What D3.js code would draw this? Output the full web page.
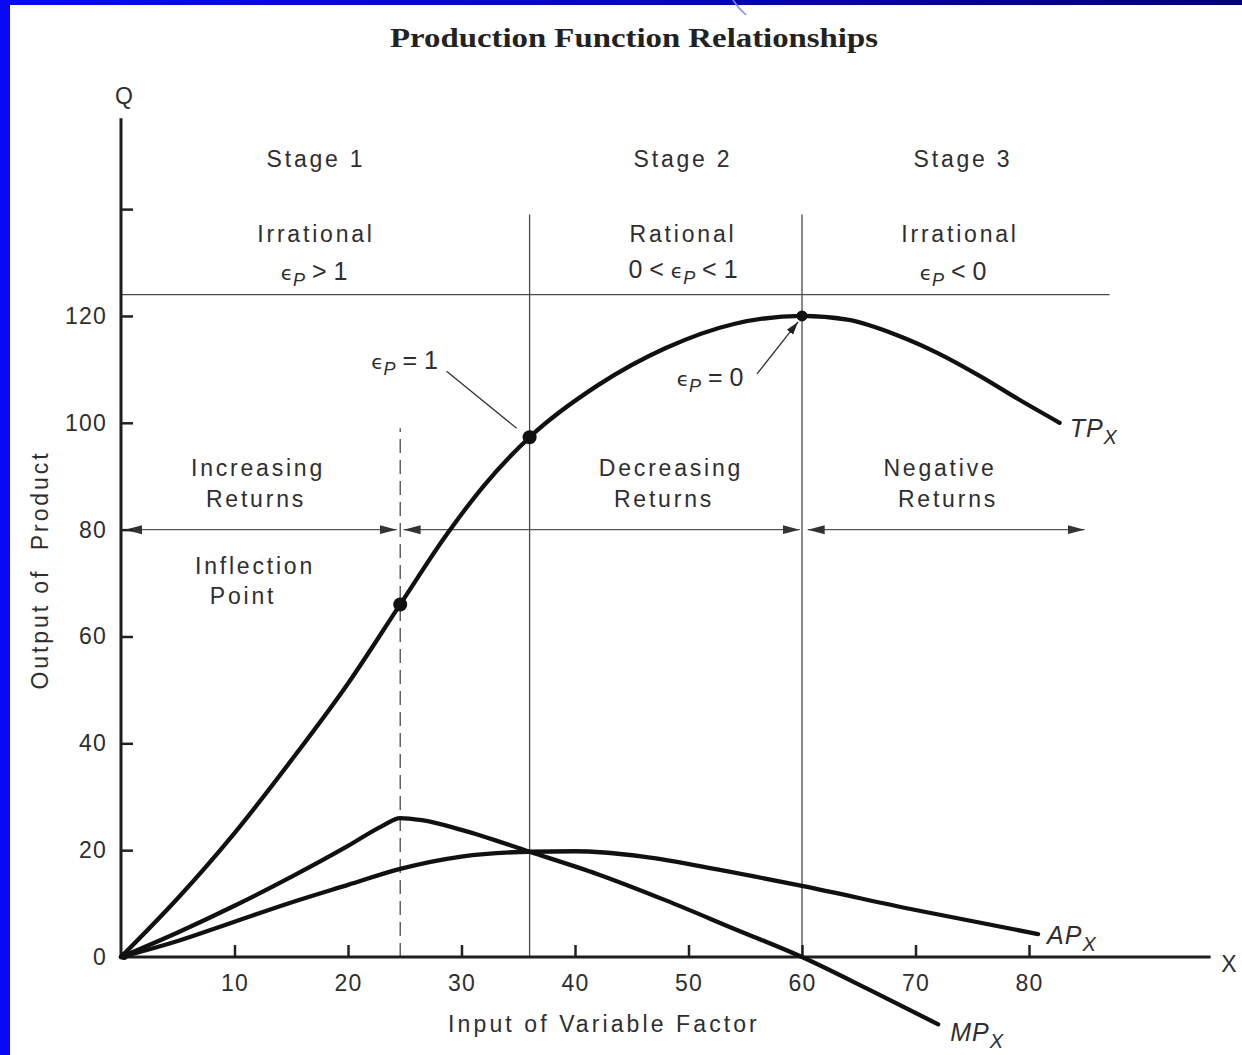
<!DOCTYPE html>
<html><head><meta charset="utf-8">
<script src="https://cdn.jsdelivr.net/npm/d3@7"></script>
<style>
body{margin:0;background:#fff;}
svg{display:block;}
</style>
</head><body>
<svg id="c" width="1242" height="1055"></svg>
<script>
// ---------- data ----------
const tpData = [[0,0],[5,11],[10,23.2],[15,36.8],[20,51.2],[24.6,66],[28.6,78.8],[32,88.3],[36,97.3],[42,107],[48,114],[54,118.5],[60,120],[64,119.3],[68.5,116.3],[72,113],[75.8,108.6],[79,104.5],[82.7,100]];
const mpData = [[0,0],[5,4.6],[10,9.6],[15,15],[20,20.8],[23,24.5],[24.6,26],[26.5,25.6],[30,23.8],[36,19.7],[42,15.5],[48,10.6],[54,5.3],[60,0],[66,-6.2],[72,-12.6]];
const apData = [[0,0],[5,3],[10,6.6],[15,10.2],[20,13.5],[24.6,16.5],[30,18.8],[36,19.7],[40,19.8],[46,18.8],[53,16.2],[60,13.3],[70,8.8],[80.8,4.3]];
const keyPoints = [[24.6,66],[36,97.3],[60,120]];
const xTicks = [10,20,30,40,50,60,70,80];
const yTicks = [0,20,40,60,80,100,120,140];
const yTickLabels = ["0","20","40","60","80","100","120",""];
const inflectionX = 24.6;
const stageBounds = [36,60];
const elasticityLineValue = 124;
const arrowLevel = 80;
const arrowSpans = [[0.35,24.3],[24.9,59.8],[60.5,84.9]];
const stageNames = ["Stage 1","Stage 2","Stage 3"];
const stageRationality = ["Irrational","Rational","Irrational"];
const returnsLabels = [["Increasing","Returns"],["Decreasing","Returns"],["Negative","Returns"]];

// ---------- setup ----------
const svg = d3.select("#c");
const W = 1242, H = 1055;
const defs = svg.append("defs");
const grad = defs.append("linearGradient").attr("id","topg").attr("x1","0").attr("x2","1");
grad.append("stop").attr("offset","0").attr("stop-color","#0a0af8");
grad.append("stop").attr("offset","0.55").attr("stop-color","#0606b8");
grad.append("stop").attr("offset","1").attr("stop-color","#00006e");
defs.append("marker").attr("id","ah").attr("markerUnits","userSpaceOnUse")
  .attr("markerWidth",18).attr("markerHeight",10).attr("refX",17).attr("refY",5)
  .attr("orient","auto-start-reverse")
  .append("path").attr("d","M0,0.5 L17,5 L0,9.5 Z").attr("fill","#333");
defs.append("marker").attr("id","ah2").attr("markerUnits","userSpaceOnUse")
  .attr("markerWidth",14).attr("markerHeight",10).attr("refX",13).attr("refY",5)
  .attr("orient","auto")
  .append("path").attr("d","M0,1 L13,5 L0,9 Z").attr("fill","#222");

svg.append("rect").attr("width",W).attr("height",H).attr("fill","#fff");
svg.append("rect").attr("x",0).attr("y",0).attr("width",W).attr("height",5).attr("fill","url(#topg)");
svg.append("rect").attr("x",0).attr("y",0).attr("width",10).attr("height",H).attr("fill","#0909f4");
svg.append("path").attr("d","M733,0 Q738,8 746,15").attr("fill","none").attr("stroke","#7a8ee8").attr("stroke-width",1.5);

const x = d3.scaleLinear().domain([0,96]).range([121,1210.6]);
const y = d3.scaleLinear().domain([0,157]).range([957,118.3]);

const SANS = "'Liberation Sans', Arial, Helvetica, sans-serif";
const TXT = "#2e2e2e";

function label(t, cx, by, opts={}) {
  return svg.append("text").attr("x",cx).attr("y",by)
    .attr("font-family",SANS).attr("font-size",opts.size||23)
    .attr("letter-spacing",opts.ls!==undefined?opts.ls:2.8)
    .attr("text-anchor",opts.anchor||"middle").attr("fill",TXT).text(t);
}

// title
svg.append("text").attr("x",634).attr("y",47).attr("text-anchor","middle")
  .attr("font-family","'Liberation Serif','Times New Roman',serif").attr("font-weight","bold")
  .attr("font-size",28).attr("fill","#222")
  .attr("textLength",488).attr("lengthAdjust","spacingAndGlyphs")
  .text("Production Function Relationships");

// ---------- reference lines ----------
const thin = "#4a4a4a";
svg.append("line").attr("x1",x(0)).attr("x2",x(87.1))
  .attr("y1",y(elasticityLineValue)).attr("y2",y(elasticityLineValue))
  .attr("stroke",thin).attr("stroke-width",1.3);
stageBounds.forEach(b=>{
  svg.append("line").attr("x1",x(b)).attr("x2",x(b)).attr("y1",y(0)).attr("y2",y(139))
    .attr("stroke",thin).attr("stroke-width",1.3);
});
svg.append("line").attr("x1",x(inflectionX)).attr("x2",x(inflectionX)).attr("y1",y(0)).attr("y2",y(99))
  .attr("stroke",thin).attr("stroke-width",1.3).attr("stroke-dasharray","14,7");

arrowSpans.forEach(s=>{
  svg.append("line").attr("x1",x(s[0])).attr("x2",x(s[1])).attr("y1",y(arrowLevel)).attr("y2",y(arrowLevel))
    .attr("stroke","#555").attr("stroke-width",1.3)
    .attr("marker-start","url(#ah)").attr("marker-end","url(#ah)");
});

// ---------- axes ----------
const yAxis = d3.axisLeft(y).tickValues(yTicks).tickSizeInner(-12).tickSizeOuter(0).tickPadding(14)
  .tickFormat((d,i)=>yTickLabels[i]);
const gy = svg.append("g").attr("transform",`translate(${x(0)},0)`).call(yAxis);
gy.select(".domain").remove();
gy.selectAll(".tick line").attr("stroke","#222").attr("stroke-width",2.5)
  .filter(d=>d===0).remove();
gy.selectAll(".tick text").attr("font-family",SANS).attr("font-size",23).attr("fill",TXT).attr("letter-spacing",1.2);

const xAxis = d3.axisBottom(x).tickValues(xTicks).tickSizeInner(-12).tickSizeOuter(0).tickPadding(18);
const gx = svg.append("g").attr("transform",`translate(0,${y(0)})`).call(xAxis);
gx.select(".domain").remove();
gx.selectAll(".tick line").attr("stroke","#222").attr("stroke-width",2.5);
gx.selectAll(".tick text").attr("font-family",SANS).attr("font-size",23).attr("fill",TXT).attr("letter-spacing",1.2);

svg.append("line").attr("x1",x(0)).attr("x2",x(0)).attr("y1",y(0)+1).attr("y2",y(157))
  .attr("stroke","#1e1e1e").attr("stroke-width",3);
svg.append("line").attr("x1",x(0)-1).attr("x2",x(96)).attr("y1",y(0)).attr("y2",y(0))
  .attr("stroke","#1e1e1e").attr("stroke-width",3);

label("Q", x(0)+3, 104, {ls:0, size:23});
label("X", 1229, 972, {ls:0, size:23});
svg.append("text").attr("transform","translate(48,570) rotate(-90)").attr("text-anchor","middle")
  .attr("font-family",SANS).attr("font-size",23).attr("letter-spacing",2.9).attr("fill",TXT)
  .attr("xml:space","preserve").text("Output of  Product");
label("Input of Variable Factor", 604, 1032, {ls:3.1});

// ---------- curves ----------
const line = d3.line().x(d=>x(d[0])).y(d=>y(d[1])).curve(d3.curveMonotoneX);
[tpData, mpData, apData].forEach(data=>{
  svg.append("path").datum(data).attr("d",line).attr("fill","none")
    .attr("stroke","#111").attr("stroke-width",4.3).attr("stroke-linecap","round").attr("stroke-linejoin","round");
});
svg.selectAll("circle.kp").data(keyPoints).enter().append("circle").attr("class","kp")
  .attr("cx",d=>x(d[0])).attr("cy",d=>y(d[1])).attr("r",(d,i)=>i===2?5.5:7).attr("fill","#111");
svg.append("circle").attr("cx",x(0)+3).attr("cy",y(0)-1).attr("r",4).attr("fill","#111");

function seriesLabel(main, data, dx, dy) {
  const e = data[data.length-1];
  const t = svg.append("text").attr("x",x(e[0])+dx).attr("y",y(e[1])+dy)
    .attr("font-family",SANS).attr("font-size",25).attr("font-style","italic").attr("fill",TXT).attr("letter-spacing",1);
  t.append("tspan").text(main);
  t.append("tspan").attr("dy",7).attr("font-size",20).text("X");
}
seriesLabel("TP", tpData, 10, 14);
seriesLabel("AP", apData, 9, 10);
seriesLabel("MP", mpData, 12, 17);

// ---------- stage texts ----------
const stageCenters = [316, 683, 963];
stageNames.forEach((s,i)=> label(s, stageCenters[i], 167));
const ratCenters = [316, 683, 960];
stageRationality.forEach((s,i)=> label(s, ratCenters[i], 242));

function epsText(cx, by, before, after, anchor) {
  const t = svg.append("text").attr("x",cx).attr("y",by).attr("text-anchor",anchor||"middle")
    .attr("font-family",SANS).attr("font-size",25).attr("fill",TXT).attr("xml:space","preserve");
  if (before) t.append("tspan").text(before);
  t.append("tspan").attr("font-family","'DejaVu Sans',sans-serif").attr("font-size",20).text("\u03F5");
  t.append("tspan").attr("dy",6).attr("font-size",18).attr("font-style","italic").text("P");
  t.append("tspan").attr("dy",-6).text(after);
  return t;
}
epsText(314, 280, "", " > 1");
epsText(683, 278, "0 < ", " < 1");
epsText(953, 280, "", " < 0");

const retCenters = [[258,256],[671,664],[940,948]];
returnsLabels.forEach((r,i)=>{
  label(r[0], retCenters[i][0], 476);
  label(r[1], retCenters[i][1], 507);
});
label("Inflection", 255, 574);
label("Point", 243, 604);

// elasticity annotations
const p1 = keyPoints[1], p0 = keyPoints[2];
epsText(x(p1[0])-125, y(p1[1])-68, "", " = 1");
svg.append("line").attr("x1",x(p1[0])-83).attr("y1",y(p1[1])-66)
  .attr("x2",x(p1[0])-13).attr("y2",y(p1[1])-9).attr("stroke","#333").attr("stroke-width",1.3);
epsText(x(p0[0])-92, y(p0[1])+70, "", " = 0");
svg.append("line").attr("x1",x(p0[0])-45).attr("y1",y(p0[1])+58)
  .attr("x2",x(p0[0])-4).attr("y2",y(p0[1])+6).attr("stroke","#333").attr("stroke-width",1.3)
  .attr("marker-end","url(#ah2)");
</script>
</body></html>
